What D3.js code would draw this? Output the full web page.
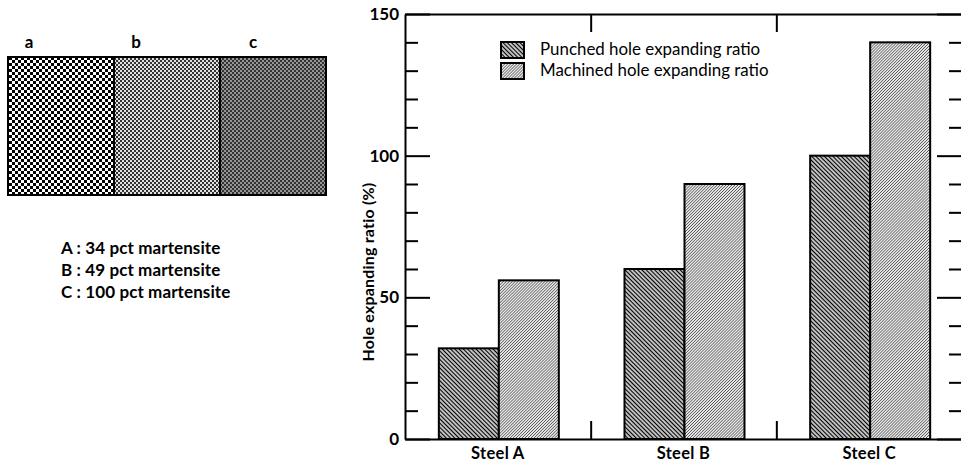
<!DOCTYPE html>
<html>
<head>
<meta charset="utf-8">
<script src="https://cdn.jsdelivr.net/npm/d3@7"></script>
<style>
  html, body { margin: 0; padding: 0; background: #fff; }
  svg { display: block; font-family: Lato, "Open Sans", sans-serif; }
</style>
</head>
<body>
<svg id="chart" width="961" height="468"></svg>
<script>
// ---- data ----
const categories = ["Steel A", "Steel B", "Steel C"];
const seriesNames = ["Punched hole expanding ratio", "Machined hole expanding ratio"];
const punched = [32, 60, 100];
const machined = [56, 90, 140];
const majorTicks = [0, 50, 100, 150];
const minorTicks = [10, 20, 30, 40, 60, 70, 80, 90, 110, 120, 130, 140];
const panelLabels = ["a", "b", "c"];
const compositionNotes = ["A : 34 pct martensite", "B : 49 pct martensite", "C : 100 pct martensite"];

const svg = d3.select("#chart");
const defs = svg.append("defs");

// hatch patterns for bars
function hatch(id, size, width, color, angle) {
  const p = defs.append("pattern").attr("id", id)
    .attr("patternUnits", "userSpaceOnUse")
    .attr("width", size).attr("height", size)
    .attr("patternTransform", `rotate(${angle})`);
  p.append("rect").attr("width", size).attr("height", size).attr("fill", "#fff");
  p.append("line").attr("x1", size / 2).attr("x2", size / 2).attr("y1", 0).attr("y2", size)
    .attr("stroke", color).attr("stroke-width", width);
}
hatch("punched", 3, 1.5, "#000", -45);
hatch("machined", 2.1, 0.9, "#555", 45);

// checker patterns for micrograph panels
function checker(id, cell, c1, c2) {
  const p = defs.append("pattern").attr("id", id)
    .attr("patternUnits", "userSpaceOnUse")
    .attr("width", cell * 2).attr("height", cell * 2);
  p.append("rect").attr("width", cell * 2).attr("height", cell * 2).attr("fill", c2);
  p.append("rect").attr("width", cell).attr("height", cell).attr("fill", c1);
  p.append("rect").attr("x", cell).attr("y", cell).attr("width", cell).attr("height", cell).attr("fill", c1);
}
checker("chkA", 3, "#000", "#fff");
checker("chkB", 2, "#333", "#e0e0e0");
checker("chkC", 2, "#333", "#959595");
const panelFills = ["url(#chkA)", "url(#chkB)", "url(#chkC)"];

// ---- left panel ----
const px = d3.scaleBand().domain(panelLabels).range([8, 326]);
const panel = svg.append("g");
panel.selectAll("rect.p").data(panelLabels).join("rect")
  .attr("x", d => px(d)).attr("y", 57)
  .attr("width", px.bandwidth()).attr("height", 138)
  .attr("fill", (d, i) => panelFills[i])
  .attr("stroke", "#000").attr("stroke-width", 2);
panel.selectAll("text.pl").data(panelLabels).join("text")
  .attr("x", (d, i) => px(d) + [21, 22, 33][i]).attr("y", 48)
  .attr("text-anchor", "middle").attr("font-weight", "bold").attr("font-size", 17)
  .text(d => d);
panel.selectAll("text.note").data(compositionNotes).join("text")
  .attr("x", 61).attr("y", (d, i) => 254 + i * 22)
  .attr("font-weight", "bold").attr("font-size", 17).attr("letter-spacing", 0.1)
  .text(d => d);

// ---- bar chart ----
const pLeft = 405, pRight = 962, pTop = 14, pBottom = 439;
const x = d3.scaleBand().domain(categories).range([pLeft, pRight]);
const xs = d3.scaleBand().domain(seriesNames).range([0, 120]);
const y = d3.scaleLinear().domain([0, 150]).range([pBottom, pTop]);
const boundaries = categories.slice(1).map(c => x(c));
const bx = d3.scaleIdentity().domain([pLeft, pRight]);

const bars = svg.append("g");
categories.forEach((c, i) => {
  const g = bars.append("g").attr("transform", `translate(${x(c) + x.bandwidth() / 2 - 59},0)`);
  const vals = [punched[i], machined[i]];
  g.selectAll("rect").data(seriesNames).join("rect")
    .attr("x", d => xs(d)).attr("width", xs.bandwidth())
    .attr("y", (d, j) => y(vals[j])).attr("height", (d, j) => pBottom - y(vals[j]))
    .attr("fill", (d, j) => j === 0 ? "url(#punched)" : "url(#machined)")
    .attr("stroke", "#000").attr("stroke-width", 2);
});

function styleAxis(g) {
  g.selectAll("path.domain").attr("stroke", "#000").attr("stroke-width", 2);
  g.selectAll(".tick line").attr("stroke", "#000").attr("stroke-width", 2);
}

// left axis
svg.append("g").attr("transform", `translate(${pLeft},0)`)
  .call(d3.axisLeft(y).tickValues(majorTicks).tickSizeInner(-25).tickSizeOuter(0).tickPadding(32))
  .call(styleAxis)
  .call(g => g.selectAll("text").attr("font-size", 17).attr("font-weight", "bold")
    .attr("font-family", "Lato, sans-serif").attr("fill", "#000").attr("dx", 26));
svg.append("g").attr("transform", `translate(${pLeft},0)`)
  .call(d3.axisLeft(y).tickValues(minorTicks).tickSize(-13).tickFormat(""))
  .call(styleAxis).call(g => g.select("path.domain").remove());

// right axis
svg.append("g").attr("transform", `translate(${pRight},0)`)
  .call(d3.axisRight(y).tickValues(majorTicks).tickSizeInner(-25).tickSizeOuter(0).tickFormat(""))
  .call(styleAxis);
svg.append("g").attr("transform", `translate(${pRight},0)`)
  .call(d3.axisRight(y).tickValues(minorTicks).tickSize(-13).tickFormat(""))
  .call(styleAxis).call(g => g.select("path.domain").remove());

// top axis
svg.append("g").attr("transform", `translate(0,${pTop})`)
  .call(d3.axisTop(bx).tickValues(boundaries).tickSizeInner(-18).tickSizeOuter(0).tickFormat(""))
  .call(styleAxis);

// bottom axis
svg.append("g").attr("transform", `translate(0,${pBottom})`)
  .call(d3.axisBottom(bx).tickValues(boundaries).tickSizeInner(-18).tickSizeOuter(0).tickFormat(""))
  .call(styleAxis);
svg.append("g").attr("transform", `translate(0,${pBottom})`)
  .call(d3.axisBottom(x).tickSize(0).tickPadding(8))
  .call(g => g.select("path.domain").remove())
  .call(g => g.selectAll("text").attr("font-size", 16.5).attr("font-weight", "bold")
    .attr("font-family", "Lato, sans-serif").attr("fill", "#000").attr("letter-spacing", 0.3));

// y label
svg.append("text")
  .attr("transform", `translate(374,272) rotate(-90)`)
  .attr("text-anchor", "middle").attr("font-weight", "bold").attr("font-size", 16)
  .attr("letter-spacing", 0.2)
  .text("Hole expanding ratio (%)");

// legend
const legend = svg.append("g");
legend.selectAll("rect").data(seriesNames).join("rect")
  .attr("x", 501).attr("y", (d, i) => 42 + i * 21)
  .attr("width", 23).attr("height", 16)
  .attr("fill", (d, i) => i === 0 ? "url(#punched)" : "url(#machined)")
  .attr("stroke", "#000").attr("stroke-width", 2);
legend.selectAll("text").data(seriesNames).join("text")
  .attr("x", 540).attr("y", (d, i) => 55 + i * 21)
  .attr("font-size", 16.9).attr("fill", "#000")
  .text(d => d);
</script>
</body>
</html>
